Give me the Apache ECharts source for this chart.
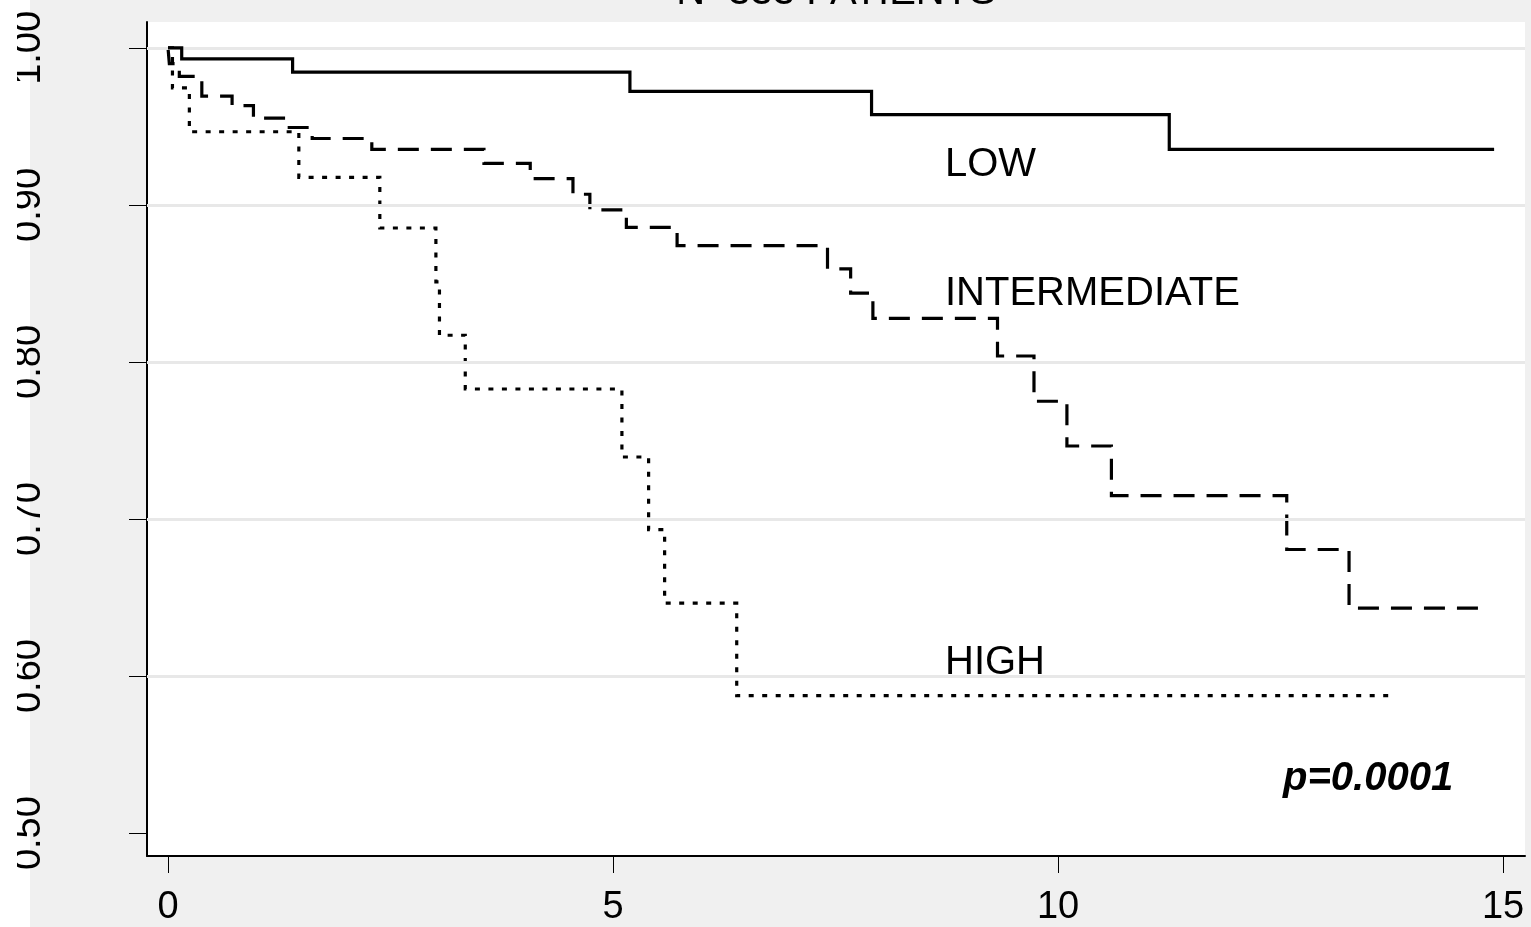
<!DOCTYPE html>
<html>
<head>
<meta charset="utf-8">
<title>Survival by risk group</title>
<script src="https://cdn.jsdelivr.net/npm/echarts@6/dist/echarts.min.js"></script>
<style>
  html, body { margin: 0; padding: 0; background: #ffffff; }
  #chart { width: 1531px; height: 927px; }
</style>
</head>
<body>
<div id="chart"></div>
<script>
// Kaplan-Meier step estimates: event times (years) and survival after each event
const lowTimes = [0, 0.154, 1.40, 5.19, 7.905, 11.25, 14.9];
const lowSurv  = [1.0, 0.9930, 0.9846, 0.9723, 0.9575, 0.9354, 0.9354];

const intTimes = [0, 0.015, 0.127, 0.38, 0.72, 0.96, 1.32, 1.62, 2.29, 3.55, 4.07, 4.55, 4.74,
                  5.15, 5.72, 7.41, 7.67, 7.92, 9.32, 9.73, 10.10, 10.60, 12.57, 13.27, 14.76];
const intSurv  = [1.0, 0.990, 0.9818, 0.9693, 0.9632, 0.9553, 0.9493, 0.9423, 0.9354, 0.9265, 0.9168, 0.9068, 0.8969,
                  0.8857, 0.8741, 0.8593, 0.8438, 0.8278, 0.8038, 0.7750, 0.7465, 0.7149, 0.6806, 0.6432, 0.6432];

const highTimes = [0, 0.05, 0.24, 1.47, 2.38, 3.01, 3.05, 3.34, 5.10, 5.40, 5.58, 6.39, 13.79];
const highSurv  = [1.0, 0.9745, 0.9466, 0.9176, 0.8853, 0.851, 0.8170, 0.7828, 0.7395, 0.6933, 0.6464, 0.5875, 0.5875];

// Axis ticks and gridlines
const xTicks = [0, 5, 10, 15];
const yTicks = [0.5, 0.6, 0.7, 0.8, 0.9, 1.0];
const yGrid  = [0.6, 0.7, 0.8, 0.9, 1.0];

const title = 'N=333 PATIENTS';
const groupLabels = ['LOW', 'INTERMEDIATE', 'HIGH'];
const pText = 'p=0.0001';

const FONT = "'Liberation Sans', Arial, Helvetica, sans-serif";

function pairs(t, s) { return t.map((v, i) => [v, s[i]]); }

const chart = echarts.init(document.getElementById('chart'), null, { renderer: 'canvas' });

const curveStyle = (type) => ({ color: '#000', width: 3.2, type: type, cap: 'butt', join: 'miter' });

chart.setOption({
  animation: false,
  backgroundColor: '#f0f0f0',
  grid: {
    left: 147, right: 6, top: 22, bottom: 67,
    show: true, backgroundColor: '#ffffff', borderWidth: 0
  },
  xAxis: {
    type: 'value',
    min: -0.236, max: 15.247,
    axisLine: { show: true, onZero: false, lineStyle: { color: '#000', width: 2 } },
    axisTick: { show: true, customValues: xTicks, length: 17, lineStyle: { color: '#000', width: 1 } },
    axisLabel: { customValues: xTicks, margin: 33, color: '#000', fontSize: 38, fontFamily: FONT },
    splitLine: { show: false }
  },
  yAxis: {
    type: 'value',
    min: 0.48542, max: 1.01648,
    axisLine: { show: true, onZero: false, lineStyle: { color: '#000', width: 2 } },
    axisTick: { show: true, customValues: yTicks, length: 18, lineStyle: { color: '#000', width: 1 } },
    axisLabel: {
      customValues: yTicks, rotate: 90, margin: 98, color: '#000',
      fontSize: 38, fontFamily: FONT,
      formatter: (v) => v.toFixed(2)
    },
    splitLine: { show: false }
  },
  graphic: [
    // white page margin on the left; the outer part sits above the label column and trims it
    { type: 'rect', z: -100, shape: { x: 0, y: 0, width: 30, height: 927 }, style: { fill: '#ffffff' }, silent: true },
    { type: 'rect', z: 100, shape: { x: 0, y: 0, width: 17, height: 927 }, style: { fill: '#ffffff' }, silent: true },
    { type: 'text', x: 836, y: -7.5, style: { text: title, font: '40px ' + FONT, fill: '#000', align: 'center', verticalAlign: 'middle' } },
    { type: 'text', x: 945, y: 165, style: { text: groupLabels[0], font: '40px ' + FONT, fill: '#000', align: 'left', verticalAlign: 'middle' } },
    { type: 'text', x: 945, y: 293.5, style: { text: groupLabels[1], font: '40px ' + FONT, fill: '#000', align: 'left', verticalAlign: 'middle' } },
    { type: 'text', x: 945, y: 663, style: { text: groupLabels[2], font: '40px ' + FONT, fill: '#000', align: 'left', verticalAlign: 'middle' } },
    { type: 'text', x: 1283, y: 779, style: { text: pText, font: 'italic bold 40px ' + FONT, fill: '#000', align: 'left', verticalAlign: 'middle' } }
  ],
  series: [
    {
      name: 'grid', type: 'line', data: [], z: 1, silent: true,
      markLine: {
        silent: true, symbol: 'none', label: { show: false },
        lineStyle: { color: '#e8e8e8', width: 3, type: 'solid' },
        data: yGrid.map(v => ({ yAxis: v }))
      }
    },
    { name: groupLabels[0], type: 'line', step: 'end', showSymbol: false, z: 5, silent: true,
      lineStyle: curveStyle('solid'), data: pairs(lowTimes, lowSurv) },
    { name: groupLabels[1], type: 'line', step: 'end', showSymbol: false, z: 4, silent: true,
      lineStyle: curveStyle([21, 12]), data: pairs(intTimes, intSurv) },
    { name: groupLabels[2], type: 'line', step: 'end', showSymbol: false, z: 3, silent: true,
      lineStyle: curveStyle([5, 8.5]), data: pairs(highTimes, highSurv) }
  ]
});
</script>
</body>
</html>
